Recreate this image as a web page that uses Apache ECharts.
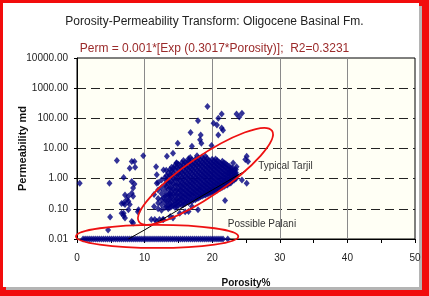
<!DOCTYPE html>
<html>
<head>
<meta charset="utf-8">
<script src="https://cdn.jsdelivr.net/npm/echarts@6/dist/echarts.min.js"></script>
<style>
  html, body { margin: 0; padding: 0; }
  body { width: 429px; height: 296px; position: relative; background: #f20c0c; overflow: hidden; }
  #shadow { position: absolute; left: 6px; top: 6px; width: 416px; height: 284px; background: #b4b4b4; }
  #panel { position: absolute; left: 3px; top: 3px; width: 416px; height: 284px; background: #fff; }
  #chart { position: absolute; left: 0; top: 0; width: 429px; height: 296px; }
</style>
</head>
<body>
<div id="shadow"></div>
<div id="panel"></div>
<div id="chart"></div>
<script>
// porosity %, permeability md
// dense cloud (Typical Tarjil), read column by column
var tarjilCloud = [
  [11.4, 0.12], [11.4, 0.3],
  [12.0, 0.1], [12.0, 0.22], [12.0, 0.42], [12.0, 0.75],
  [12.5, 0.09], [12.5, 0.14], [12.5, 0.2], [12.5, 0.32], [12.5, 0.5], [12.5, 0.9],
  [13.0, 0.11], [13.0, 0.17], [13.0, 0.26], [13.0, 0.4], [13.0, 0.62], [13.0, 1.1],
  [13.5, 0.1], [13.5, 0.13], [13.5, 0.2], [13.5, 0.3], [13.5, 0.45], [13.5, 0.7], [13.5, 1.0], [13.5, 1.5],
  [14.0, 0.12], [14.0, 0.16], [14.0, 0.24], [14.0, 0.36], [14.0, 0.52], [14.0, 0.8], [14.0, 1.2], [14.0, 1.8], [14.0, 2.4],
  [14.5, 0.11], [14.5, 0.14], [14.5, 0.19], [14.5, 0.28], [14.5, 0.4], [14.5, 0.6], [14.5, 0.9], [14.5, 1.3], [14.5, 2.0], [14.5, 2.8],
  [15.0, 0.13], [15.0, 0.17], [15.0, 0.23], [15.0, 0.33], [15.0, 0.46], [15.0, 0.68], [15.0, 1.0], [15.0, 1.45], [15.0, 2.1], [15.0, 3.0],
  [15.5, 0.13], [15.5, 0.2], [15.5, 0.27], [15.5, 0.38], [15.5, 0.54], [15.5, 0.76], [15.5, 1.1], [15.5, 1.6], [15.5, 2.3], [15.5, 3.4],
  [16.0, 0.15], [16.0, 0.22], [16.0, 0.3], [16.0, 0.42], [16.0, 0.6], [16.0, 0.85], [16.0, 1.2], [16.0, 1.7], [16.0, 2.5], [16.0, 3.6],
  [16.5, 0.16], [16.5, 0.25], [16.5, 0.34], [16.5, 0.47], [16.5, 0.66], [16.5, 0.94], [16.5, 1.3], [16.5, 1.9], [16.5, 2.7], [16.5, 3.9], [16.5, 4.6],
  [17.0, 0.18], [17.0, 0.28], [17.0, 0.37], [17.0, 0.52], [17.0, 0.72], [17.0, 1.0], [17.0, 1.45], [17.0, 2.05], [17.0, 2.9], [17.0, 4.2],
  [17.5, 0.2], [17.5, 0.3], [17.5, 0.41], [17.5, 0.57], [17.5, 0.8], [17.5, 1.1], [17.5, 1.55], [17.5, 2.2], [17.5, 3.1], [17.5, 4.4],
  [18.0, 0.23], [18.0, 0.33], [18.0, 0.45], [18.0, 0.62], [18.0, 0.87], [18.0, 1.2], [18.0, 1.7], [18.0, 2.4], [18.0, 3.3], [18.0, 4.8],
  [18.5, 0.26], [18.5, 0.36], [18.5, 0.5], [18.5, 0.68], [18.5, 0.95], [18.5, 1.3], [18.5, 1.8], [18.5, 2.6], [18.5, 3.6], [18.5, 5.2],
  [19.0, 0.29], [19.0, 0.4], [19.0, 0.55], [19.0, 0.75], [19.0, 1.05], [19.0, 1.45], [19.0, 2.0], [19.0, 2.8], [19.0, 3.9], [19.0, 5.5],
  [19.5, 0.32], [19.5, 0.44], [19.5, 0.6], [19.5, 0.82], [19.5, 1.15], [19.5, 1.6], [19.5, 2.2], [19.5, 3.0], [19.5, 4.1],
  [20.0, 0.36], [20.0, 0.48], [20.0, 0.65], [20.0, 0.9], [20.0, 1.25], [20.0, 1.7], [20.0, 2.35], [20.0, 3.2], [20.0, 4.4],
  [20.5, 0.4], [20.5, 0.54], [20.5, 0.72], [20.5, 1.0], [20.5, 1.35], [20.5, 1.85], [20.5, 2.5], [20.5, 3.4], [20.5, 4.5],
  [21.0, 0.46], [21.0, 0.6], [21.0, 0.8], [21.0, 1.1], [21.0, 1.5], [21.0, 2.0], [21.0, 2.7], [21.0, 3.6],
  [21.5, 0.52], [21.5, 0.68], [21.5, 0.9], [21.5, 1.2], [21.5, 1.6], [21.5, 2.2], [21.5, 2.9], [21.5, 3.8],
  [22.0, 0.6], [22.0, 0.78], [22.0, 1.0], [22.0, 1.35], [22.0, 1.8], [22.0, 2.4], [22.0, 3.1],
  [22.5, 0.7], [22.5, 0.9], [22.5, 1.15], [22.5, 1.5], [22.5, 2.0], [22.5, 2.6],
  [23.0, 0.85], [23.0, 1.05], [23.0, 1.35], [23.0, 1.75], [23.0, 2.2],
  [23.5, 1.0], [23.5, 1.25], [23.5, 1.6], [23.5, 2.0]
];

// in-between columns of the same cloud
var tarjilFill = [
  [13.25, 0.12], [13.25, 0.18], [13.25, 0.28], [13.25, 0.55], [13.25, 0.85], [13.25, 1.25],
  [13.75, 0.11], [13.75, 0.15], [13.75, 0.22], [13.75, 0.33], [13.75, 0.5], [13.75, 0.75], [13.75, 1.3], [13.75, 2.0],
  [14.25, 0.13], [14.25, 0.2], [14.25, 0.3], [14.25, 0.44], [14.25, 0.66], [14.25, 1.0], [14.25, 1.5], [14.25, 2.2],
  [14.75, 0.12], [14.75, 0.16], [14.75, 0.21], [14.75, 0.3], [14.75, 0.43], [14.75, 0.63], [14.75, 0.95], [14.75, 1.4], [14.75, 2.4], [14.75, 3.3],
  [15.25, 0.15], [15.25, 0.2], [15.25, 0.29], [15.25, 0.41], [15.25, 0.58], [15.25, 0.85], [15.25, 1.25], [15.25, 1.8], [15.25, 2.6],
  [15.75, 0.14], [15.75, 0.18], [15.75, 0.25], [15.75, 0.35], [15.75, 0.48], [15.75, 0.66], [15.75, 0.95], [15.75, 1.4], [15.75, 2.0], [15.75, 2.9], [15.75, 4.0],
  [16.25, 0.17], [16.25, 0.2], [16.25, 0.28], [16.25, 0.38], [16.25, 0.52], [16.25, 0.72], [16.25, 1.05], [16.25, 1.5], [16.25, 2.2], [16.25, 3.1],
  [16.75, 0.19], [16.75, 0.23], [16.75, 0.31], [16.75, 0.42], [16.75, 0.58], [16.75, 0.8], [16.75, 1.15], [16.75, 1.65], [16.75, 2.35], [16.75, 3.3], [16.75, 5.0],
  [17.25, 0.2], [17.25, 0.26], [17.25, 0.34], [17.25, 0.46], [17.25, 0.64], [17.25, 0.88], [17.25, 1.25], [17.25, 1.8], [17.25, 2.6], [17.25, 3.6],
  [17.75, 0.22], [17.75, 0.28], [17.75, 0.38], [17.75, 0.5], [17.75, 0.7], [17.75, 0.95], [17.75, 1.35], [17.75, 1.9], [17.75, 2.8], [17.75, 3.9], [17.75, 5.8],
  [18.25, 0.25], [18.25, 0.31], [18.25, 0.42], [18.25, 0.55], [18.25, 0.76], [18.25, 1.05], [18.25, 1.45], [18.25, 2.05], [18.25, 2.9], [18.25, 4.1],
  [18.75, 0.28], [18.75, 0.34], [18.75, 0.45], [18.75, 0.6], [18.75, 0.82], [18.75, 1.15], [18.75, 1.6], [18.75, 2.2], [18.75, 3.1], [18.75, 4.4],
  [19.25, 0.31], [19.25, 0.38], [19.25, 0.5], [19.25, 0.66], [19.25, 0.9], [19.25, 1.25], [19.25, 1.7], [19.25, 2.4], [19.25, 3.4], [19.25, 4.7],
  [19.75, 0.34], [19.75, 0.42], [19.75, 0.54], [19.75, 0.72], [19.75, 0.98], [19.75, 1.35], [19.75, 1.85], [19.75, 2.6], [19.75, 3.6],
  [20.25, 0.38], [20.25, 0.46], [20.25, 0.6], [20.25, 0.78], [20.25, 1.05], [20.25, 1.45], [20.25, 2.0], [20.25, 2.8], [20.25, 3.8],
  [20.75, 0.42], [20.75, 0.5], [20.75, 0.66], [20.75, 0.86], [20.75, 1.15], [20.75, 1.6], [20.75, 2.2], [20.75, 3.0], [20.75, 4.0],
  [21.25, 0.48], [21.25, 0.56], [21.25, 0.72], [21.25, 0.95], [21.25, 1.3], [21.25, 1.75], [21.25, 2.4], [21.25, 3.2],
  [21.75, 0.55], [21.75, 0.64], [21.75, 0.82], [21.75, 1.05], [21.75, 1.4], [21.75, 1.9], [21.75, 2.6], [21.75, 3.4],
  [22.25, 0.62], [22.25, 0.72], [22.25, 0.92], [22.25, 1.2], [22.25, 1.55], [22.25, 2.1], [22.25, 2.8],
  [22.75, 0.72], [22.75, 0.82], [22.75, 1.05], [22.75, 1.35], [22.75, 1.75], [22.75, 2.3],
  [23.25, 0.9], [23.25, 1.15], [23.25, 1.5], [23.25, 1.9]
];

// scattered points outside the cloud
var outliers = [
  [0.4, 0.7], [4.8, 0.7], [5.9, 4.0], [9.8, 5.7], [8.5, 3.7], [8.6, 2.4], [6.9, 1.1],
  [8.1, 0.8], [8.5, 0.67], [8.3, 0.49], [7.1, 0.29], [7.35, 0.2], [7.6, 0.18], [6.6, 0.15],
  [7.8, 0.14], [6.9, 0.072], [7.1, 0.05], [7.6, 0.093], [9.0, 0.08], [9.1, 0.093], [4.9, 0.054],
  [4.6, 0.02], [11.7, 2.5], [11.8, 1.35], [11.8, 0.7], [11.0, 0.044], [11.5, 0.044], [12.2, 0.044],
  [12.7, 0.044], [14.9, 15], [19.3, 245], [21.4, 138], [20.9, 100], [23.6, 138], [24.4, 148],
  [24.0, 110], [17.9, 83], [20.7, 60], [20.2, 69], [21.4, 48], [21.6, 40], [16.8, 34], [18.3, 28],
  [18.2, 19.5], [18.4, 15], [19.9, 12.6], [17.0, 11.8], [20.9, 28], [13.3, 5.5], [14.2, 7], [14.7, 3.3],
  [13.2, 1.9], [12.8, 1.95], [8.1, 3.7], [7.8, 2.2], [25.1, 5.5], [25.3, 3.7], [24.9, 4.3],
  [23.1, 3.3], [23.6, 2.5], [22.6, 1.7], [6.9, 0.155], [7.1, 0.14], [7.6, 0.26], [8.1, 0.33],
  [8.3, 0.26], [6.6, 0.072], [6.9, 0.059], [8.1, 0.038], [8.3, 0.034], [21.9, 0.19], [25.1, 0.7],
  [24.4, 0.9], [23.6, 1.35], [17.0, 0.12], [16.0, 0.08], [15.2, 0.072], [13.8, 0.056], [12.8, 0.044],
  [11.8, 0.038], [12.0, 0.155], [12.8, 0.23], [13.8, 0.29], [17.9, 0.093], [16.5, 0.081], [14.2, 0.05]
];

// Possible Palani: the floor at 0.01 md
var palaniPhi = [0.9, 1.2, 1.5, 1.8, 2.1, 2.4, 2.7, 3.0, 3.3, 3.6, 3.9, 4.2, 4.5, 4.8, 5.1, 5.4,
  5.7, 6.0, 6.3, 6.6, 6.9, 7.2, 7.5, 7.8, 8.1, 8.4, 8.7, 9.0, 9.3, 9.6, 9.9, 10.2, 10.5, 10.8,
  11.1, 11.4, 11.7, 12.0, 12.3, 12.6, 12.9, 13.2, 13.5, 13.8, 14.1, 14.4, 14.7, 15.0, 15.3, 15.6,
  15.9, 16.2, 16.5, 16.8, 17.1, 17.4, 17.7, 18.0, 18.3, 18.6, 18.9, 19.2, 19.5, 19.8, 20.1, 20.4,
  20.7, 21.0, 21.3, 21.6, 22.3];
var palaniPerm = 0.01;

// black transform line
var trendPhi = [7.6, 10, 12, 14, 16, 18, 20, 22, 24, 25];
var trendPerm = [0.01, 0.02, 0.037, 0.068, 0.125, 0.23, 0.42, 0.76, 1.4, 1.85];

var font = 'Liberation Sans, Arial, sans-serif';

var points = tarjilCloud.concat(tarjilFill).concat(outliers).concat(palaniPhi.map(function (p) {
  return [p, palaniPerm];
}));

var chart = echarts.init(document.getElementById('chart'), null, {renderer: 'canvas'});

var option = {
  animation: false,
  backgroundColor: 'transparent',
  title: [{
    text: 'Porosity-Permeability Transform: Oligocene Basinal Fm.',
    left: 'center',
    top: 11,
    textStyle: {fontFamily: font, fontSize: 12, fontWeight: 'normal', color: '#222'}
  }, {
    text: 'Perm = 0.001*[Exp (0.3017*Porosity)];  R2=0.3231',
    left: 'center',
    top: 38,
    textStyle: {fontFamily: font, fontSize: 12, fontWeight: 'normal', color: '#9b2a2a'}
  }],
  grid: {
    left: 77, right: 14, top: 58, bottom: 57,
    outerBoundsMode: 'none',
    containLabel: false,
    show: true,
    backgroundColor: '#fffff5',
    borderColor: '#000',
    borderWidth: 1
  },
  xAxis: {
    type: 'value',
    min: 0, max: 50, interval: 10,
    name: 'Porosity%',
    nameLocation: 'middle',
    nameGap: 39,
    nameTextStyle: {fontFamily: font, fontSize: 10, fontWeight: 'bold', color: '#111'},
    axisLine: {lineStyle: {color: '#000', width: 1}},
    axisTick: {show: true, inside: false, length: 4, lineStyle: {color: '#000'}},
    minorTick: {show: true, splitNumber: 2, length: 4, lineStyle: {color: '#000'}},
    axisLabel: {fontFamily: font, fontSize: 10, color: '#222', margin: 14},
    splitLine: {show: true, showMinLine: false, showMaxLine: false, lineStyle: {color: '#8a8a8a', width: 1}}
  },
  yAxis: {
    type: 'log',
    logBase: 10,
    min: 0.01, max: 10000,
    splitNumber: 6,
    name: 'Permeability md',
    nameLocation: 'middle',
    nameGap: 49,
    nameMoveOverlap: false,
    nameTextStyle: {fontFamily: font, fontSize: 11, fontWeight: 'bold', color: '#111'},
    axisLine: {show: true, lineStyle: {color: '#000', width: 1}},
    axisTick: {show: true, inside: false, length: 3, lineStyle: {color: '#000'}},
    axisLabel: {
      fontFamily: font, fontSize: 10, color: '#222', margin: 9,
      formatter: function (v) { return Number(v).toFixed(2); }
    },
    splitLine: {
      show: true, showMinLine: false, showMaxLine: false,
      lineStyle: {color: '#222', width: 1, type: [9, 5]}
    }
  },
  series: [{
    name: 'samples',
    type: 'scatter',
    symbol: 'diamond',
    symbolSize: [6, 7],
    itemStyle: {color: '#00007f'},
    data: points,
    z: 2
  }, {
    name: 'transform',
    type: 'line',
    showSymbol: false,
    lineStyle: {color: '#000', width: 1},
    data: trendPhi.map(function (p, i) { return [p, trendPerm[i]]; }),
    z: 3
  }]
};

chart.setOption(option);

// annotation ellipses placed from data coordinates
function px(p) { return chart.convertToPixel({gridIndex: 0}, p); }

function ellipseBetween(a, b, halfWidth) {
  var p1 = px(a), p2 = px(b);
  var dx = p2[0] - p1[0], dy = p2[1] - p1[1];
  return {
    type: 'ellipse',
    x: (p1[0] + p2[0]) / 2,
    y: (p1[1] + p2[1]) / 2,
    rotation: Math.atan2(-dy, dx),
    shape: {cx: 0, cy: 0, rx: Math.sqrt(dx * dx + dy * dy) / 2, ry: halfWidth},
    style: {fill: 'none', stroke: '#ee1111', lineWidth: 1.8},
    z: 10
  };
}

function label(txt, at) {
  var p = px(at);
  return {
    type: 'text',
    x: p[0], y: p[1],
    style: {text: txt, fill: '#333', fontFamily: font, fontSize: 10, verticalAlign: 'middle'},
    z: 10
  };
}

chart.setOption({
  graphic: [
    ellipseBetween([9.17, 0.037], [28.85, 38.5], 20),
    ellipseBetween([-0.15, 0.0122], [23.86, 0.0122], 11.5),
    label('Typical Tarjil', [26.8, 2.5]),
    label('Possible Palani', [22.3, 0.032])
  ]
});
</script>
</body>
</html>
